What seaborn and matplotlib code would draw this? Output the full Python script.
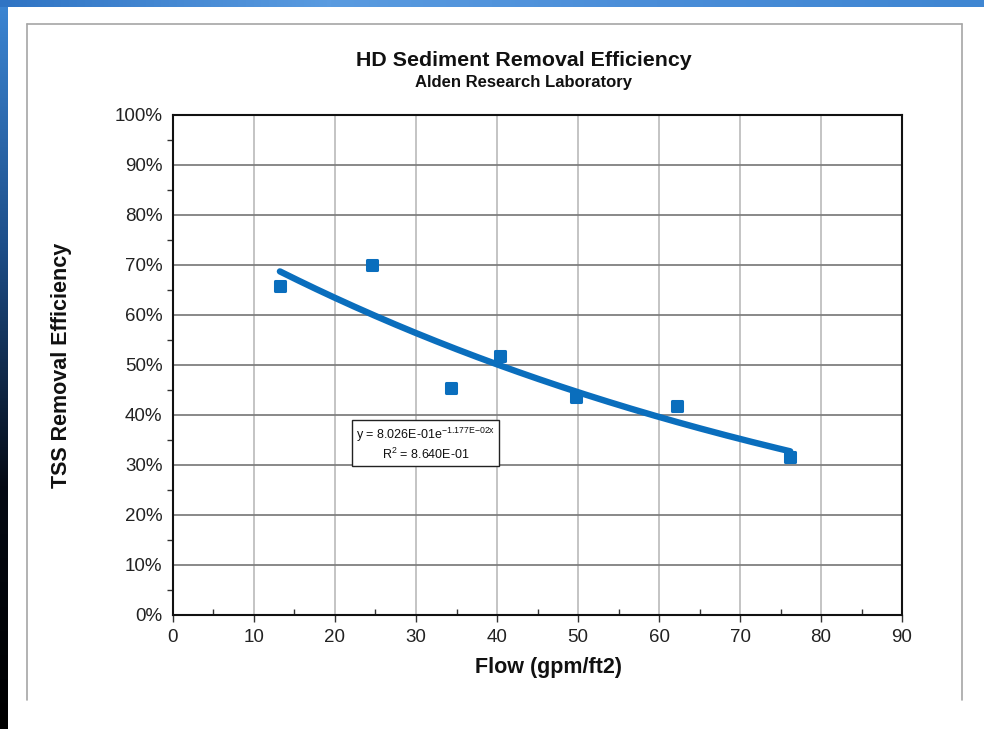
import numpy as np
import pandas as pd
import matplotlib
matplotlib.use("Agg")
import matplotlib.pyplot as plt
from matplotlib.lines import Line2D
from matplotlib.markers import MarkerStyle
from matplotlib.ticker import MultipleLocator, PercentFormatter
import seaborn as sns

## data
flow = [13.2, 24.6, 34.3, 40.4, 49.8, 62.2, 76.2]          # gpm/ft2
tss_eff = [0.658, 0.700, 0.454, 0.518, 0.436, 0.418, 0.316]

## exponential trendline as printed on the chart: y = a * exp(b*x)
trend_a = 8.026e-01
trend_b = -1.177e-02
trend_r2 = 8.640e-01

blue = "#0A6EBD"

sns.set_theme(style="white")
plt.rcParams["font.family"] = ["Liberation Sans", "DejaVu Sans"]
plt.rcParams["mathtext.fontset"] = "custom"
plt.rcParams["mathtext.rm"] = "Liberation Sans"

fig = plt.figure(figsize=(9.84, 7.29), dpi=100)
fig.patch.set_facecolor("white")

## slide decoration: blue strip on the left and top
grad = np.linspace(0, 1, 256).reshape(-1, 1)
ax_l = fig.add_axes([0, 0, 0.008, 1])
ax_l.imshow(grad, aspect="auto", cmap=matplotlib.colors.LinearSegmentedColormap.from_list(
    "slide", ["#3C86D4", "#1E4F8A", "#050A14", "#000000"]), extent=[0, 1, 0, 1])
ax_l.axis("off")
ax_t = fig.add_axes([0, 0.99, 1, 0.01])
ax_t.imshow(np.linspace(0, 1, 256).reshape(1, -1), aspect="auto",
            cmap=matplotlib.colors.LinearSegmentedColormap.from_list(
                "top", ["#2F74C4", "#5A9BE0", "#4A8DD8", "#3F86D2"]))
ax_t.axis("off")

## chart frame (no bottom line, cut off as in the slide)
frame_kw = dict(color="#A6A6A6", lw=1.2, transform=fig.transFigure)
fig.add_artist(Line2D([0.0274, 0.0274], [0.040, 0.967], **frame_kw))
fig.add_artist(Line2D([0.0274, 0.9776], [0.967, 0.967], **frame_kw))
fig.add_artist(Line2D([0.9776, 0.9776], [0.040, 0.967], **frame_kw))

ax = fig.add_axes([0.1758, 0.1564, 0.7409, 0.6859])

df = pd.DataFrame({"flow": flow, "eff": tss_eff})
xs = np.linspace(min(flow), max(flow), 200)
trend = pd.DataFrame({"flow": xs, "eff": trend_a * np.exp(trend_b * xs)})

sns.lineplot(data=trend, x="flow", y="eff", ax=ax, color=blue, lw=4.6,
             solid_capstyle="round", zorder=3)
sns.scatterplot(data=df, x="flow", y="eff", ax=ax, color=blue,
                marker=MarkerStyle("s", joinstyle="round"), s=62,
                edgecolor=blue, linewidth=2.2, zorder=4)

ax.set_xlim(0, 90)
ax.set_ylim(0, 1.0)
ax.xaxis.set_major_locator(MultipleLocator(10))
ax.xaxis.set_minor_locator(MultipleLocator(5))
ax.yaxis.set_major_locator(MultipleLocator(0.1))
ax.yaxis.set_minor_locator(MultipleLocator(0.05))
ax.yaxis.set_major_formatter(PercentFormatter(1.0, decimals=0))

ax.grid(False)
for v in range(10, 90, 10):
    ax.axvline(v, color="#BFBFBF", lw=1.3, zorder=1)
for v in np.arange(0.1, 1.0, 0.1):
    ax.axhline(v, color="#7F7F7F", lw=1.3, zorder=1)

for sp in ax.spines.values():
    sp.set_color("#111111")
    sp.set_linewidth(1.5)

ax.tick_params(axis="y", which="major", direction="inout", length=9, width=1,
               color="#333333", labelsize=13.5, labelcolor="#222222", pad=3)
ax.tick_params(axis="y", which="minor", direction="out", length=4, width=1,
               color="#333333", left=True)
ax.tick_params(axis="x", which="major", direction="out", length=5, width=1,
               color="#333333", labelsize=13.5, labelcolor="#222222", pad=5, bottom=True)
ax.tick_params(axis="x", which="minor", direction="in", length=4, width=1,
               color="#333333", bottom=True)

ax.set_xlabel("")
ax.set_ylabel("")

fig.text(0.557, 0.0837, "Flow (gpm/ft2)", ha="center", va="center",
         fontsize=15.5, fontweight="bold", color="#111111")
fig.text(0.063, 0.499, "TSS Removal Efficiency", ha="center", va="center",
         rotation=90, fontsize=15.5, fontweight="bold", color="#111111")
fig.text(0.532, 0.917, "HD Sediment Removal Efficiency", ha="center", va="center",
         fontsize=15.4, fontweight="bold", color="#111111")
fig.text(0.532, 0.887, "Alden Research Laboratory", ha="center", va="center",
         fontsize=12, fontweight="bold", color="#111111")

## trendline label box
label = ("y = %.3fE-01e$^{\\mathregular{-%.3fE{-}02x}}$\nR$^{\\mathregular{2}}$ = %.3fE-01"
         % (trend_a * 10, -trend_b * 100, trend_r2 * 10))
ax.text(31.2, 0.342, label, ha="center", va="center", multialignment="center",
        fontsize=9, color="#111111", zorder=5, linespacing=1.25,
        bbox=dict(boxstyle="square,pad=0.3", fc="white", ec="#222222", lw=1))

fig.savefig("out.png", dpi=100)
